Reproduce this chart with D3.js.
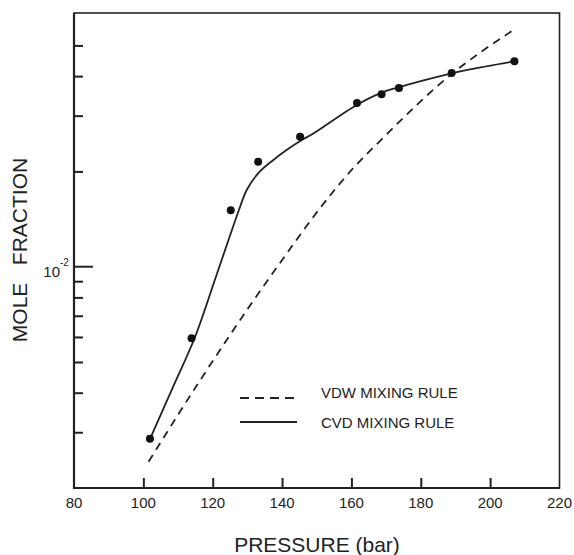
<!DOCTYPE html>
<html>
<head>
<meta charset="utf-8">
<script src="https://cdn.jsdelivr.net/npm/d3@7"></script>
<style>
    body { margin: 0; background: #fff; }
    text { font-family: "Liberation Sans", Arial, sans-serif; fill: #222; }
</style>
</head>
<body>
<div class="chart"></div>
<script>
// measured points
const pointP = [101.9, 113.9, 125.2, 133.1, 145.2, 161.6, 168.7, 173.7, 188.9, 207.0];
const pointX = [0.00286, 0.00594, 0.01507, 0.02146, 0.02574, 0.0329, 0.03504, 0.03668, 0.04092, 0.04455];

// CVD mixing rule (solid)
const cvdP = [101.9, 108.6, 114.9, 121.2, 127.9, 129.8, 133.1, 137.5, 141.3, 145.7, 149.0, 161.5, 168.2, 173.5, 188.9, 194.2, 207.0];
const cvdX = [0.002856, 0.004179, 0.005999, 0.009485, 0.01547, 0.01747, 0.01973, 0.02174, 0.02337, 0.02513, 0.02635, 0.03242, 0.0353, 0.03687, 0.04083, 0.04202, 0.04455];

// VDW mixing rule (dashed)
const vdwP = [101.5, 115.8, 125.0, 131.2, 139.4, 150.9, 159.6, 168.5, 188.9, 206.7];
const vdwX = [0.002421, 0.004283, 0.006087, 0.007665, 0.010272, 0.01529, 0.019956, 0.02513, 0.0406, 0.05594];

const xTicks = [80, 100, 120, 140, 160, 180, 200, 220];
const yMinorTicks = [0.003, 0.004, 0.005, 0.006, 0.007, 0.008, 0.009, 0.02, 0.03, 0.04, 0.05];
const yMajorTick = 0.01;
const legendLabels = ["VDW MIXING RULE", "CVD MIXING RULE"];

const width = 574, height = 555;
const plotLeft = 74, plotRight = 559.5, plotTop = 13, plotBottom = 488;
const ink = "#222";

const svg = d3.select(".chart").append("svg")
    .attr("width", width)
    .attr("height", height);

const x = d3.scaleLinear().domain([80, 220]).range([plotLeft, plotRight]);
const y = d3.scaleLog().domain([0.002, 0.0633]).range([plotBottom, plotTop]);

// x axis, ticks pointing inward
const xAxis = svg.append("g")
    .attr("transform", `translate(0, ${plotBottom})`)
    .call(d3.axisBottom(x).tickValues(xTicks.slice(1, -1)).tickSize(-10).tickFormat(""));
xAxis.select(".domain").remove();
xAxis.selectAll("line").attr("stroke", ink).attr("stroke-width", 2);

svg.append("g").selectAll("text")
    .data(xTicks)
    .enter().append("text")
    .attr("x", (d) => x(d))
    .attr("y", plotBottom + 20)
    .attr("text-anchor", "middle")
    .style("font-size", "15px")
    .text((d) => d);

// y axis minor ticks
const yAxis = svg.append("g")
    .attr("transform", `translate(${plotLeft}, 0)`)
    .call(d3.axisLeft(y).tickValues(yMinorTicks).tickSize(-9).tickFormat(""));
yAxis.select(".domain").remove();
yAxis.selectAll("line").attr("stroke", ink).attr("stroke-width", 2);

svg.append("line")
    .attr("x1", plotLeft).attr("x2", plotLeft + 19)
    .attr("y1", y(yMajorTick)).attr("y2", y(yMajorTick))
    .attr("stroke", ink).attr("stroke-width", 2);

svg.append("text")
    .attr("x", 60)
    .attr("y", y(yMajorTick) + 10)
    .attr("text-anchor", "end")
    .style("font-size", "15px")
    .text("10");
svg.append("text")
    .attr("x", 60)
    .attr("y", y(yMajorTick) - 1)
    .style("font-size", "10px")
    .text("-2");

// frame
svg.append("rect")
    .attr("x", plotLeft).attr("y", plotTop)
    .attr("width", plotRight - plotLeft).attr("height", plotBottom - plotTop)
    .attr("fill", "none").attr("stroke", ink).attr("stroke-width", 1.6);
svg.append("path")
    .attr("d", `M${plotLeft},${plotTop}V${plotBottom}H${plotRight}`)
    .attr("fill", "none").attr("stroke", ink).attr("stroke-width", 2.2);

// curves
const vdwLine = d3.line()
    .x((d) => x(d[0]))
    .y((d) => y(d[1]))
    .curve(d3.curveMonotoneX);

const cvdLine = d3.line()
    .x((d) => x(d[0]))
    .y((d) => y(d[1]))
    .curve(d3.curveCatmullRom.alpha(0.5));

svg.append("path")
    .attr("d", vdwLine(d3.zip(vdwP, vdwX)))
    .attr("fill", "none")
    .attr("stroke", ink)
    .attr("stroke-width", 1.8)
    .attr("stroke-dasharray", "8,6");

svg.append("path")
    .attr("d", cvdLine(d3.zip(cvdP, cvdX)))
    .attr("fill", "none")
    .attr("stroke", ink)
    .attr("stroke-width", 1.8);

svg.append("g").selectAll("circle")
    .data(d3.zip(pointP, pointX))
    .enter().append("circle")
    .attr("cx", (d) => x(d[0]))
    .attr("cy", (d) => y(d[1]))
    .attr("r", 4)
    .attr("fill", "#111");

// legend
const legend = svg.append("g");
legend.append("line")
    .attr("x1", 240).attr("x2", 296).attr("y1", 398).attr("y2", 398)
    .attr("stroke", ink).attr("stroke-width", 1.8).attr("stroke-dasharray", "9,6");
legend.append("line")
    .attr("x1", 240).attr("x2", 297).attr("y1", 422).attr("y2", 422)
    .attr("stroke", ink).attr("stroke-width", 1.8);
legend.selectAll("text")
    .data(legendLabels)
    .enter().append("text")
    .attr("x", 321)
    .attr("y", (d, i) => 398 + i * 30)
    .style("font-size", "15px")
    .text((d) => d);

// axis titles
svg.append("text")
    .attr("x", 317)
    .attr("y", 552)
    .attr("text-anchor", "middle")
    .style("font-size", "21px")
    .text("PRESSURE (bar)");

svg.append("text")
    .attr("transform", "translate(27, 250) rotate(-90)")
    .attr("text-anchor", "middle")
    .attr("xml:space", "preserve")
    .style("white-space", "pre")
    .style("font-size", "21px")
    .text("MOLE   FRACTION");
</script>
</body>
</html>
